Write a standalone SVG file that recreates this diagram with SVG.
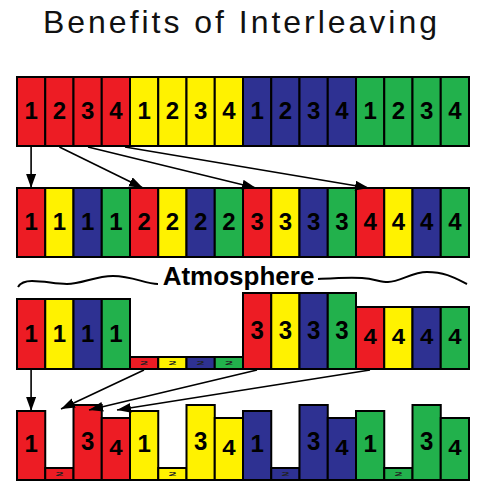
<svg xmlns="http://www.w3.org/2000/svg" width="483" height="482" viewBox="0 0 483 482">
<style>
.c{stroke:#000;stroke-width:2}
.r{fill:#ED1C24}.y{fill:#FFF200}.b{fill:#2E3192}.g{fill:#22B14C}
.d{font-family:"Liberation Sans",Arial,sans-serif;font-weight:bold;font-size:24px;fill:#000;text-anchor:middle}
.t{font-family:"Liberation Sans",Arial,sans-serif;font-weight:bold;font-size:24px;fill:#222;text-anchor:middle}
.title{font-family:"Liberation Sans",Arial,sans-serif;font-size:32px;fill:#111;text-anchor:middle}
.atm{font-family:"Liberation Sans",Arial,sans-serif;font-weight:bold;font-size:26px;fill:#000;text-anchor:middle}
.ln{stroke:#000;stroke-width:1.6;fill:none}
.wave{stroke:#000;stroke-width:2;fill:none}
</style>
<defs>
<marker id="ah" markerUnits="userSpaceOnUse" markerWidth="15" markerHeight="11" refX="14" refY="5" orient="auto">
<path d="M0,0 L14,5 L0,10 z" fill="#000"/>
</marker>
</defs>
<rect width="483" height="482" fill="#fff"/>
<text class="title" x="240" y="33" textLength="394" lengthAdjust="spacing">Benefits of Interleaving</text>

<!-- Row 1: original sequence -->
<g id="row1">
<g id="r1c1"><rect class="c r" x="17" y="77" width="28.25" height="69"/><text class="d" x="31.1" y="118.5">1</text></g>
<g id="r1c2"><rect class="c r" x="45.25" y="77" width="28.25" height="69"/><text class="d" x="59.4" y="118.5">2</text></g>
<g id="r1c3"><rect class="c r" x="73.5" y="77" width="28.25" height="69"/><text class="d" x="87.6" y="118.5">3</text></g>
<g id="r1c4"><rect class="c r" x="101.75" y="77" width="28.25" height="69"/><text class="d" x="115.9" y="118.5">4</text></g>
<g id="r1c5"><rect class="c y" x="130" y="77" width="28.25" height="69"/><text class="d" x="144.1" y="118.5">1</text></g>
<g id="r1c6"><rect class="c y" x="158.25" y="77" width="28.25" height="69"/><text class="d" x="172.4" y="118.5">2</text></g>
<g id="r1c7"><rect class="c y" x="186.5" y="77" width="28.25" height="69"/><text class="d" x="200.6" y="118.5">3</text></g>
<g id="r1c8"><rect class="c y" x="214.75" y="77" width="28.25" height="69"/><text class="d" x="228.9" y="118.5">4</text></g>
<g id="r1c9"><rect class="c b" x="243" y="77" width="28.25" height="69"/><text class="d" x="257.1" y="118.5">1</text></g>
<g id="r1c10"><rect class="c b" x="271.25" y="77" width="28.25" height="69"/><text class="d" x="285.4" y="118.5">2</text></g>
<g id="r1c11"><rect class="c b" x="299.5" y="77" width="28.25" height="69"/><text class="d" x="313.6" y="118.5">3</text></g>
<g id="r1c12"><rect class="c b" x="327.75" y="77" width="28.25" height="69"/><text class="d" x="341.9" y="118.5">4</text></g>
<g id="r1c13"><rect class="c g" x="356" y="77" width="28.25" height="69"/><text class="d" x="370.1" y="118.5">1</text></g>
<g id="r1c14"><rect class="c g" x="384.25" y="77" width="28.25" height="69"/><text class="d" x="398.4" y="118.5">2</text></g>
<g id="r1c15"><rect class="c g" x="412.5" y="77" width="28.25" height="69"/><text class="d" x="426.6" y="118.5">3</text></g>
<g id="r1c16"><rect class="c g" x="440.75" y="77" width="28.25" height="69"/><text class="d" x="454.9" y="118.5">4</text></g>
</g>

<!-- Row 2: interleaved -->
<g id="row2">
<g id="r2c1"><rect class="c r" x="17" y="188" width="28.25" height="69"/><text class="d" x="31.1" y="229.5">1</text></g>
<g id="r2c2"><rect class="c y" x="45.25" y="188" width="28.25" height="69"/><text class="d" x="59.4" y="229.5">1</text></g>
<g id="r2c3"><rect class="c b" x="73.5" y="188" width="28.25" height="69"/><text class="d" x="87.6" y="229.5">1</text></g>
<g id="r2c4"><rect class="c g" x="101.75" y="188" width="28.25" height="69"/><text class="d" x="115.9" y="229.5">1</text></g>
<g id="r2c5"><rect class="c r" x="130" y="188" width="28.25" height="69"/><text class="d" x="144.1" y="229.5">2</text></g>
<g id="r2c6"><rect class="c y" x="158.25" y="188" width="28.25" height="69"/><text class="d" x="172.4" y="229.5">2</text></g>
<g id="r2c7"><rect class="c b" x="186.5" y="188" width="28.25" height="69"/><text class="d" x="200.6" y="229.5">2</text></g>
<g id="r2c8"><rect class="c g" x="214.75" y="188" width="28.25" height="69"/><text class="d" x="228.9" y="229.5">2</text></g>
<g id="r2c9"><rect class="c r" x="243" y="188" width="28.25" height="69"/><text class="d" x="257.1" y="229.5">3</text></g>
<g id="r2c10"><rect class="c y" x="271.25" y="188" width="28.25" height="69"/><text class="d" x="285.4" y="229.5">3</text></g>
<g id="r2c11"><rect class="c b" x="299.5" y="188" width="28.25" height="69"/><text class="d" x="313.6" y="229.5">3</text></g>
<g id="r2c12"><rect class="c g" x="327.75" y="188" width="28.25" height="69"/><text class="d" x="341.9" y="229.5">3</text></g>
<g id="r2c13"><rect class="c r" x="356" y="188" width="28.25" height="69"/><text class="d" x="370.1" y="229.5">4</text></g>
<g id="r2c14"><rect class="c y" x="384.25" y="188" width="28.25" height="69"/><text class="d" x="398.4" y="229.5">4</text></g>
<g id="r2c15"><rect class="c b" x="412.5" y="188" width="28.25" height="69"/><text class="d" x="426.6" y="229.5">4</text></g>
<g id="r2c16"><rect class="c g" x="440.75" y="188" width="28.25" height="69"/><text class="d" x="454.9" y="229.5">4</text></g>
</g>

<!-- Atmosphere label -->
<g id="atmosphere">
<path class="wave" d="M18,287 C21,282 26,281 32,281 C45,281 55,284 67,284 C82,284 95,276 113,276 C133,276 145,284 158,284"/>
<text class="atm" x="238.5" y="285">Atmosphere</text>
<path class="wave" d="M318,279 C335,278 350,277 362,278 C375,279 380,282 388,282 C400,282 412,272 427,272 C445,272 455,278 467,284"/>
</g>

<!-- Row 3: after transmission -->
<g id="row3">
<g id="r3c1"><rect class="c r" x="17" y="299" width="28.25" height="70"/><text class="d" x="31.1" y="341.5">1</text></g>
<g id="r3c2"><rect class="c y" x="45.25" y="299" width="28.25" height="70"/><text class="d" x="59.4" y="341.5">1</text></g>
<g id="r3c3"><rect class="c b" x="73.5" y="299" width="28.25" height="70"/><text class="d" x="87.6" y="341.5">1</text></g>
<g id="r3c4"><rect class="c g" x="101.75" y="299" width="28.25" height="70"/><text class="d" x="115.9" y="341.5">1</text></g>
<g id="r3c5"><rect class="c r" x="130" y="357" width="28.25" height="12"/><text class="t" transform="translate(144.1,364.8) scale(0.6,0.2)">2</text></g>
<g id="r3c6"><rect class="c y" x="158.25" y="357" width="28.25" height="12"/><text class="t" transform="translate(172.4,364.8) scale(0.6,0.2)">2</text></g>
<g id="r3c7"><rect class="c b" x="186.5" y="357" width="28.25" height="12"/><text class="t" transform="translate(200.6,364.8) scale(0.6,0.2)">2</text></g>
<g id="r3c8"><rect class="c g" x="214.75" y="357" width="28.25" height="12"/><text class="t" transform="translate(228.9,364.8) scale(0.6,0.2)">2</text></g>
<g id="r3c9"><rect class="c r" x="243" y="293" width="28.25" height="76"/><text class="d" transform="translate(257.1,338.7) scale(1,1.1)">3</text></g>
<g id="r3c10"><rect class="c y" x="271.25" y="293" width="28.25" height="76"/><text class="d" transform="translate(285.4,338.7) scale(1,1.1)">3</text></g>
<g id="r3c11"><rect class="c b" x="299.5" y="293" width="28.25" height="76"/><text class="d" transform="translate(313.6,338.7) scale(1,1.1)">3</text></g>
<g id="r3c12"><rect class="c g" x="327.75" y="293" width="28.25" height="76"/><text class="d" transform="translate(341.9,338.7) scale(1,1.1)">3</text></g>
<g id="r3c13"><rect class="c r" x="356" y="307" width="28.25" height="62"/><text class="d" transform="translate(370.1,344.3) scale(1,0.9)">4</text></g>
<g id="r3c14"><rect class="c y" x="384.25" y="307" width="28.25" height="62"/><text class="d" transform="translate(398.4,344.3) scale(1,0.9)">4</text></g>
<g id="r3c15"><rect class="c b" x="412.5" y="307" width="28.25" height="62"/><text class="d" transform="translate(426.6,344.3) scale(1,0.9)">4</text></g>
<g id="r3c16"><rect class="c g" x="440.75" y="307" width="28.25" height="62"/><text class="d" transform="translate(454.9,344.3) scale(1,0.9)">4</text></g>
</g>

<!-- Row 4: de-interleaved -->
<g id="row4">
<g id="r4c1"><rect class="c r" x="17" y="411" width="28.25" height="69"/><text class="d" x="31.1" y="452">1</text></g>
<g id="r4c2"><rect class="c r" x="45.25" y="468" width="28.25" height="12"/><text class="t" transform="translate(59.4,475.8) scale(0.6,0.2)">2</text></g>
<g id="r4c3"><rect class="c r" x="73.5" y="405" width="28.25" height="75"/><text class="d" transform="translate(87.6,449.5) scale(1,1.1)">3</text></g>
<g id="r4c4"><rect class="c r" x="101.75" y="418" width="28.25" height="62"/><text class="d" transform="translate(115.9,455.3) scale(1,0.9)">4</text></g>
<g id="r4c5"><rect class="c y" x="130" y="411" width="28.25" height="69"/><text class="d" x="144.1" y="452">1</text></g>
<g id="r4c6"><rect class="c y" x="158.25" y="468" width="28.25" height="12"/><text class="t" transform="translate(172.4,475.8) scale(0.6,0.2)">2</text></g>
<g id="r4c7"><rect class="c y" x="186.5" y="405" width="28.25" height="75"/><text class="d" transform="translate(200.6,449.5) scale(1,1.1)">3</text></g>
<g id="r4c8"><rect class="c y" x="214.75" y="418" width="28.25" height="62"/><text class="d" transform="translate(228.9,455.3) scale(1,0.9)">4</text></g>
<g id="r4c9"><rect class="c b" x="243" y="411" width="28.25" height="69"/><text class="d" x="257.1" y="452">1</text></g>
<g id="r4c10"><rect class="c b" x="271.25" y="468" width="28.25" height="12"/><text class="t" transform="translate(285.4,475.8) scale(0.6,0.2)">2</text></g>
<g id="r4c11"><rect class="c b" x="299.5" y="405" width="28.25" height="75"/><text class="d" transform="translate(313.6,449.5) scale(1,1.1)">3</text></g>
<g id="r4c12"><rect class="c b" x="327.75" y="418" width="28.25" height="62"/><text class="d" transform="translate(341.9,455.3) scale(1,0.9)">4</text></g>
<g id="r4c13"><rect class="c g" x="356" y="411" width="28.25" height="69"/><text class="d" x="370.1" y="452">1</text></g>
<g id="r4c14"><rect class="c g" x="384.25" y="468" width="28.25" height="12"/><text class="t" transform="translate(398.4,475.8) scale(0.6,0.2)">2</text></g>
<g id="r4c15"><rect class="c g" x="412.5" y="405" width="28.25" height="75"/><text class="d" transform="translate(426.6,449.5) scale(1,1.1)">3</text></g>
<g id="r4c16"><rect class="c g" x="440.75" y="418" width="28.25" height="62"/><text class="d" transform="translate(454.9,455.3) scale(1,0.9)">4</text></g>
</g>

<!-- Connectors -->
<g id="connectors">
<line class="ln" x1="31.1" y1="147" x2="31.1" y2="188" marker-end="url(#ah)"/>
<line class="ln" x1="59.4" y1="147" x2="143" y2="188" marker-end="url(#ah)"/>
<line class="ln" x1="88" y1="147" x2="256" y2="188" marker-end="url(#ah)"/>
<line class="ln" x1="125" y1="147" x2="369" y2="188" marker-end="url(#ah)"/>
<line class="ln" x1="31.1" y1="370" x2="31.1" y2="411" marker-end="url(#ah)"/>
<line class="ln" x1="144" y1="370" x2="61" y2="409" marker-end="url(#ah)"/>
<line class="ln" x1="257" y1="370" x2="89" y2="410" marker-end="url(#ah)"/>
<line class="ln" x1="370" y1="370" x2="117" y2="410" marker-end="url(#ah)"/>
</g>
</svg>
